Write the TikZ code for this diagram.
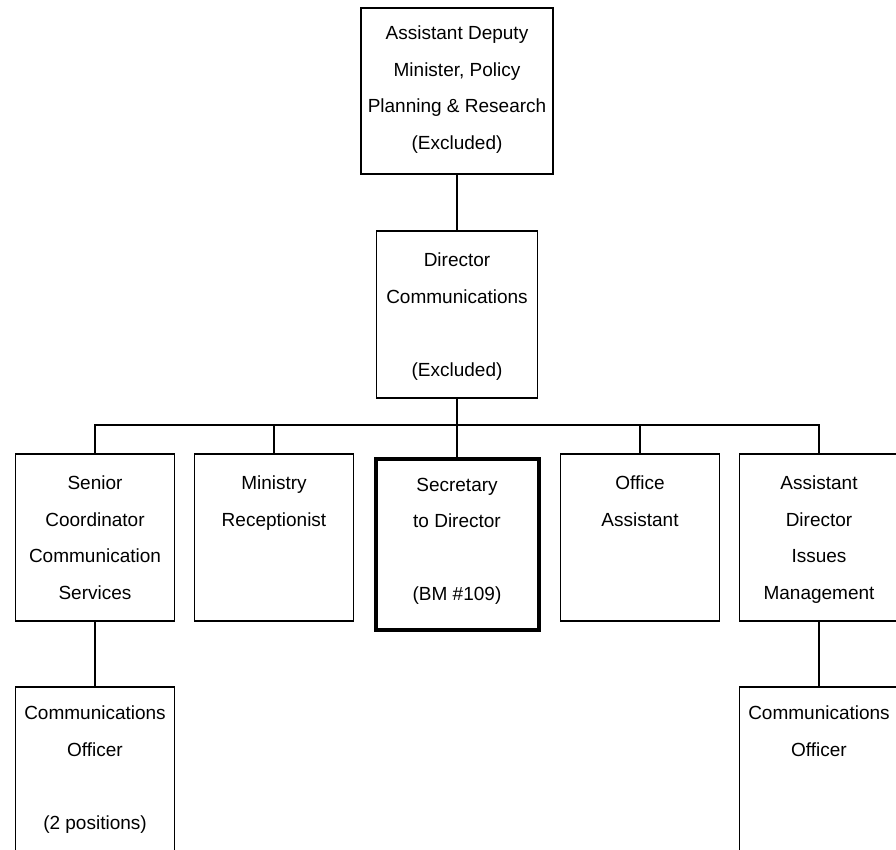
\documentclass[tikz,border=0pt]{standalone}
\usepackage{fontspec}
\setmainfont{Liberation Sans}
\usepackage{tikz}

\begin{document}
\begin{tikzpicture}[x = 1pt, y = -1pt,
	box/.style = {draw, line width = 1.6pt, minimum width = 159pt, minimum height = 167pt, anchor = north, inner sep = 0pt},
	heavybox/.style = {box, line width = 4pt},
	txt/.style = {anchor = north, align = center, inner sep = 0pt, font = \fontsize{19}{36.5}\selectfont},
	link/.style = {line width = 1.6pt}]
			\clip (0, 0) rectangle (896, 850);
			% top two levels
			\node[box, minimum width = 192pt, minimum height = 166pt] (adm) at (457, 7) {};
			\node[txt] (admtext) at ([yshift = -19pt] adm.north) {Assistant Deputy\\Minister, Policy\\Planning \& Research\\(Excluded)};
			\node[box, minimum width = 161pt] (dir) at (457, 230) {};
			\node[txt] (dirtext) at ([yshift = -23pt] dir.north) {Director\\Communications\\[36.5pt](Excluded)};
			% third level
			\foreach \n/\x in {sen/95, rec/274, off/640, iss/819}
			\node[box] (\n) at (\x, 453) {};
			\node[heavybox, minimum width = 163pt, minimum height = 171pt] (sec) at (457, 457) {};
			\node[txt] (sentext) at ([yshift = -23pt] sen.north) {Senior\\Coordinator\\Communication\\Services};
			\node[txt] (rectext) at ([yshift = -23pt] rec.north) {Ministry\\Receptionist};
			\node[txt] (sectext) at ([yshift = -21pt] sec.north) {Secretary\\to Director\\[36.5pt](BM \#109)};
			\node[txt] (offtext) at ([yshift = -23pt] off.north) {Office\\Assistant};
			\node[txt] (isstext) at ([yshift = -23pt] iss.north) {Assistant\\Director\\Issues\\Management};
			% bottom level
			\node[box, minimum height = 200pt] (comone) at (95, 686) {};
			\node[box, minimum height = 200pt] (comtwo) at (819, 686) {};
			\node[txt] (comonetext) at ([yshift = -20pt] comone.north) {Communications\\Officer\\[36.5pt](2 positions)};
			\node[txt] (comtwotext) at ([yshift = -20pt] comtwo.north) {Communications\\Officer};
			% connectors
			\coordinate (bar) at (457, 425);
			\draw[link] (adm) -- (dir);
			\draw[link] (dir) -- (bar);
			\draw[link] (sen.north) |- (bar) -| (iss.north);
			\foreach \n in {rec, sec, off}
			\draw[link] (\n) -- (\n |- bar);
			\draw[link] (sen) -- (comone);
			\draw[link] (iss) -- (comtwo);
\end{tikzpicture}
\end{document}
